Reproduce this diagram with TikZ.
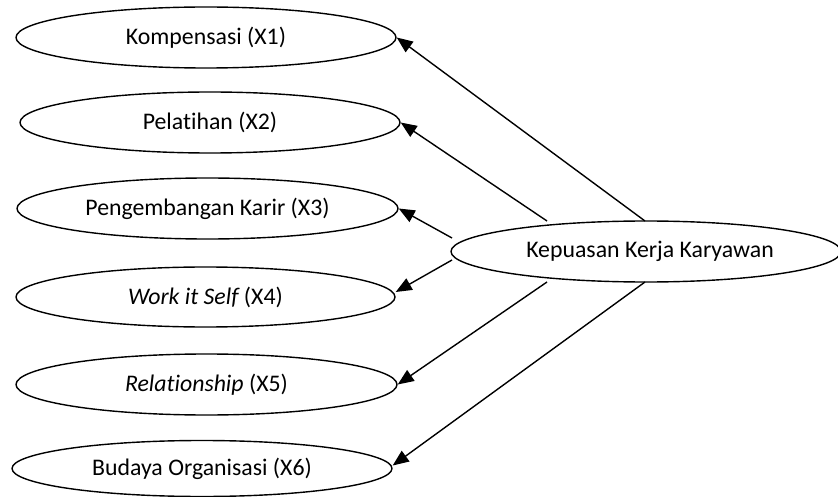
\documentclass[tikz,border=0pt]{standalone}
\usepackage{fontspec}
\setmainfont{Carlito}[Ligatures=NoCommon]
\usetikzlibrary{shapes.geometric,arrows.meta}
\begin{document}
\begin{tikzpicture}[x=1pt,y=-1pt,
  var/.style={ellipse,draw,line width=1.4pt,inner sep=0pt,minimum width=380pt,minimum height=61pt,
    font=\fontsize{23.8}{28}\selectfont},
  arr/.style={line width=1.4pt,-{Triangle[length=16pt,width=13pt]}}]
\useasboundingbox (0,0) rectangle (838,497);
\node[var] (X1) at (206,37.5) {Kompensasi (X1)};
\node[var] (X2) at (210,122.5) {Pelatihan (X2)};
\node[var,minimum width=381pt] (X3) at (207.5,208.5) {Pengembangan Karir (X3)};
\node[var,minimum width=379pt,minimum height=60pt] (X4) at (205.5,297) {{\itshape Work it Self} (X4)};
\node[var,minimum width=381pt] (X5) at (206.5,384.5) {{\itshape Relationship} (X5)};
\node[var,minimum height=56pt] (X6) at (202,468.5) {Budaya Organisasi (X6)};
\node[var,minimum width=390pt] (K) at (646,251.5) {\hspace{8pt}Kepuasan Kerja Karyawan};
\coordinate (s1) at (645,221);
\coordinate (s2) at (547,221);
\coordinate (s3) at (452,238);
\coordinate (s4) at (452,260);
\coordinate (s5) at (547,282);
\coordinate (s6) at (645,282);
\draw[arr] (s1) -- (X1.east);
\draw[arr] (s2) -- (X2.east);
\draw[arr] (s3) -- (X3.east);
\draw[arr] (s4) -- ([yshift=5pt]X4.east);
\draw[arr] (s5) -- (X5.east);
\draw[arr] (s6) -- ([yshift=3pt]X6.east);
\end{tikzpicture}
\end{document}
